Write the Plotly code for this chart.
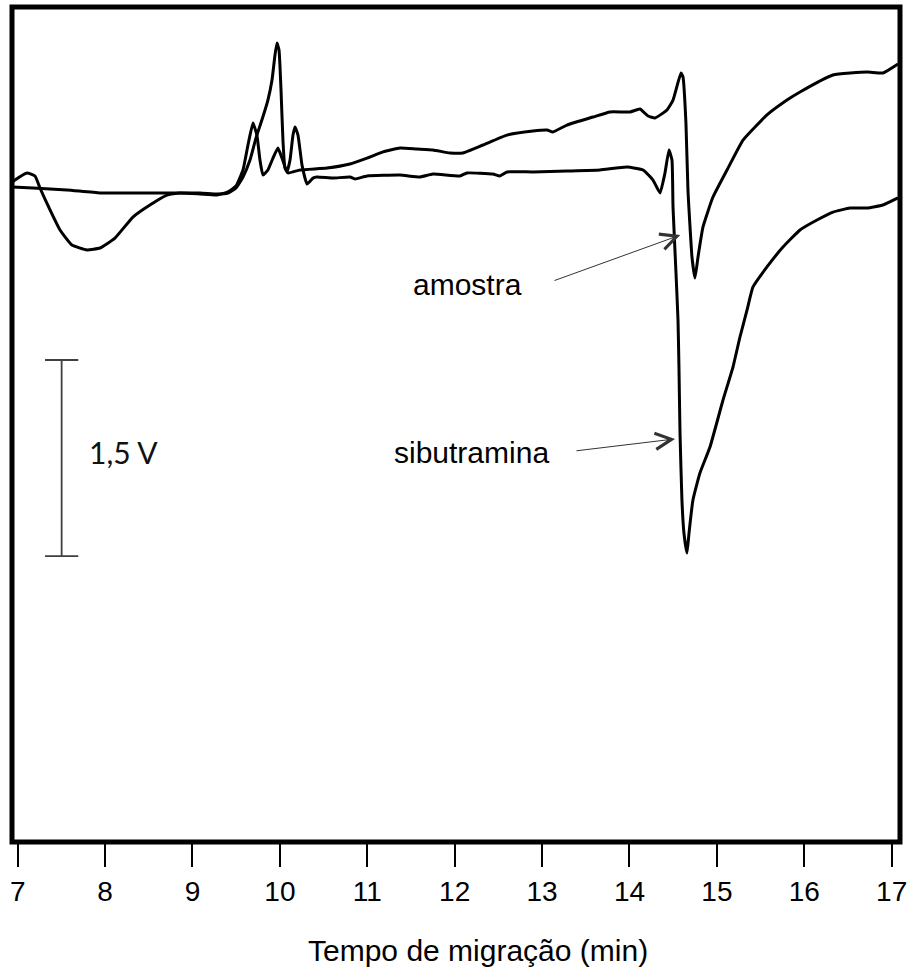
import plotly.graph_objects as go

# ---- data (time in min, signal in V) ----
amostra_t = [6.941, 7.175, 7.564, 7.942, 8.319, 8.708, 9.086, 9.281, 9.406, 9.498,
             9.578, 9.658, 9.726, 9.794, 9.863, 9.910, 9.944, 9.967, 9.990, 10.013,
             10.035, 10.058, 10.093, 10.230, 10.539, 10.802, 10.997, 11.180, 11.374, 11.568,
             11.751, 11.946, 12.094, 12.323, 12.598, 12.895, 13.056, 13.124, 13.285, 13.582,
             13.777, 14.006, 14.120, 14.212, 14.292, 14.429, 14.498, 14.589, 14.612, 14.646,
             14.669, 14.715, 14.749, 14.784, 14.841, 14.955, 15.116, 15.299, 15.573, 15.802,
             15.951, 16.328, 16.717, 16.900, 17.072]
amostra_v = [5.008, 5.000, 4.985, 4.962, 4.962, 4.962, 4.962, 4.954, 4.962, 5.000,
             5.084, 5.214, 5.382, 5.520, 5.673, 5.826, 6.018, 6.109, 6.056, 5.750,
             5.367, 5.153, 5.115, 5.138, 5.153, 5.184, 5.229, 5.276, 5.306, 5.298,
             5.291, 5.268, 5.268, 5.329, 5.405, 5.436, 5.444, 5.429, 5.482, 5.543,
             5.582, 5.582, 5.604, 5.551, 5.536, 5.597, 5.673, 5.880, 5.850, 5.497,
             4.985, 4.472, 4.311, 4.472, 4.702, 4.931, 5.138, 5.367, 5.559, 5.673,
             5.735, 5.865, 5.888, 5.880, 5.949]

sibutramina_t = [6.941, 6.969, 7.106, 7.198, 7.255, 7.370, 7.484, 7.621, 7.793, 7.942,
                 8.113, 8.319, 8.513, 8.708, 8.857, 9.086, 9.281, 9.406, 9.498, 9.578,
                 9.635, 9.692, 9.737, 9.772, 9.806, 9.863, 9.921, 9.978, 10.024, 10.081,
                 10.116, 10.150, 10.173, 10.207, 10.253, 10.310, 10.379, 10.424, 10.608, 10.802,
                 10.859, 10.997, 11.374, 11.603, 11.751, 12.060, 12.140, 12.437, 12.517, 12.598,
                 12.895, 13.285, 13.662, 13.971, 14.155, 14.269, 14.349, 14.406, 14.452, 14.486,
                 14.498, 14.532, 14.555, 14.566, 14.578, 14.600, 14.623, 14.658, 14.681, 14.726,
                 14.806, 14.921, 15.070, 15.184, 15.264, 15.345, 15.413, 15.573, 15.756, 15.951,
                 16.145, 16.328, 16.523, 16.717, 16.900, 17.072]
sibutramina_v = [5.046, 5.061, 5.115, 5.092, 5.000, 4.832, 4.679, 4.564, 4.526, 4.541,
                 4.617, 4.778, 4.870, 4.946, 4.962, 4.954, 4.946, 4.970, 5.015, 5.138,
                 5.329, 5.497, 5.405, 5.214, 5.099, 5.138, 5.229, 5.306, 5.229, 5.123,
                 5.214, 5.405, 5.467, 5.405, 5.176, 5.031, 5.076, 5.084, 5.076, 5.084,
                 5.069, 5.092, 5.099, 5.084, 5.107, 5.092, 5.115, 5.107, 5.092, 5.123,
                 5.123, 5.130, 5.138, 5.161, 5.138, 5.061, 4.962, 5.115, 5.291, 5.214,
                 4.854, 4.350, 3.990, 3.630, 3.125, 2.613, 2.360, 2.207, 2.360, 2.613,
                 2.819, 3.018, 3.378, 3.630, 3.860, 4.067, 4.243, 4.396, 4.548, 4.679,
                 4.755, 4.816, 4.847, 4.847, 4.870, 4.924]

tick_values = [7, 8, 9, 10, 11, 12, 13, 14, 15, 16, 17]
tick_labels = ["7", "8", "9", "10", "11", "12", "13", "14", "15", "16", "17"]

scale_bar_v = 1.5
scale_bar_bottom = 2.184
scale_bar_x = 7.503

x_title = "Tempo de migração (min)"

fig = go.Figure()
fig.add_trace(go.Scatter(x=amostra_t, y=amostra_v, mode="lines",
                         line=dict(color="black", width=3, shape="spline", smoothing=0.4),
                         name="amostra", showlegend=False))
fig.add_trace(go.Scatter(x=sibutramina_t, y=sibutramina_v, mode="lines",
                         line=dict(color="black", width=3, shape="spline", smoothing=0.4),
                         name="sibutramina", showlegend=False))

# frame
fig.add_shape(type="rect", xref="paper", yref="paper", x0=0, x1=1, y0=0, y1=1,
              line=dict(color="black", width=5), layer="above")

# scale bar
sb_col = "#404040"
fig.add_shape(type="line", x0=scale_bar_x, x1=scale_bar_x,
              y0=scale_bar_bottom, y1=scale_bar_bottom + scale_bar_v,
              line=dict(color=sb_col, width=1.8))
for yy in (scale_bar_bottom, scale_bar_bottom + scale_bar_v):
    fig.add_shape(type="line", x0=scale_bar_x - 0.19, x1=scale_bar_x + 0.19,
                  y0=yy, y1=yy, line=dict(color=sb_col, width=1.8))
fig.add_annotation(x=7.793, y=2.980, text="1,5 V", showarrow=False,
                   xanchor="left", yanchor="middle",
                   font=dict(family="Lato", size=30, color="#111"))

# labels and arrows
lab_font = dict(family="Liberation Sans, Arial", size=30, color="black")
fig.add_annotation(x=12.146, y=4.258, text="amostra", showarrow=False,
                   xanchor="center", yanchor="middle", font=lab_font)
fig.add_annotation(x=12.187, y=2.980, text="sibutramina", showarrow=False,
                   xanchor="center", yanchor="middle", font=lab_font)
fig.add_annotation(x=14.581, y=4.640, ax=13.125, ay=4.288, axref="x", ayref="y",
                   text="", showarrow=True, arrowhead=5, arrowsize=3.2,
                   arrowwidth=1, arrowcolor="#333")
fig.add_annotation(x=14.521, y=3.080, ax=13.376, ay=2.988, axref="x", ayref="y",
                   text="", showarrow=True, arrowhead=5, arrowsize=3.2,
                   arrowwidth=1, arrowcolor="#333")

# x title
fig.add_annotation(xref="paper", yref="paper", x=0.5248, y=-0.130,
                   text=x_title, showarrow=False, xanchor="center", yanchor="middle",
                   font=dict(family="Liberation Sans, Arial", size=30, color="black"))

fig.update_xaxes(range=[6.935, 17.095], tickmode="array", tickvals=tick_values,
                 ticktext=tick_labels, ticks="outside", ticklen=24, tickwidth=2,
                 tickcolor="black", showline=False, showgrid=False, zeroline=False,
                 tickfont=dict(family="Liberation Sans, Arial", size=28, color="black"))
fig.update_yaxes(range=[-0.004, 6.385], visible=False, showgrid=False, zeroline=False)

fig.update_layout(width=913, height=974, autosize=False,
                  margin=dict(l=12, r=13, t=7, b=132),
                  plot_bgcolor="white", paper_bgcolor="white")

fig.write_html("out.html")
